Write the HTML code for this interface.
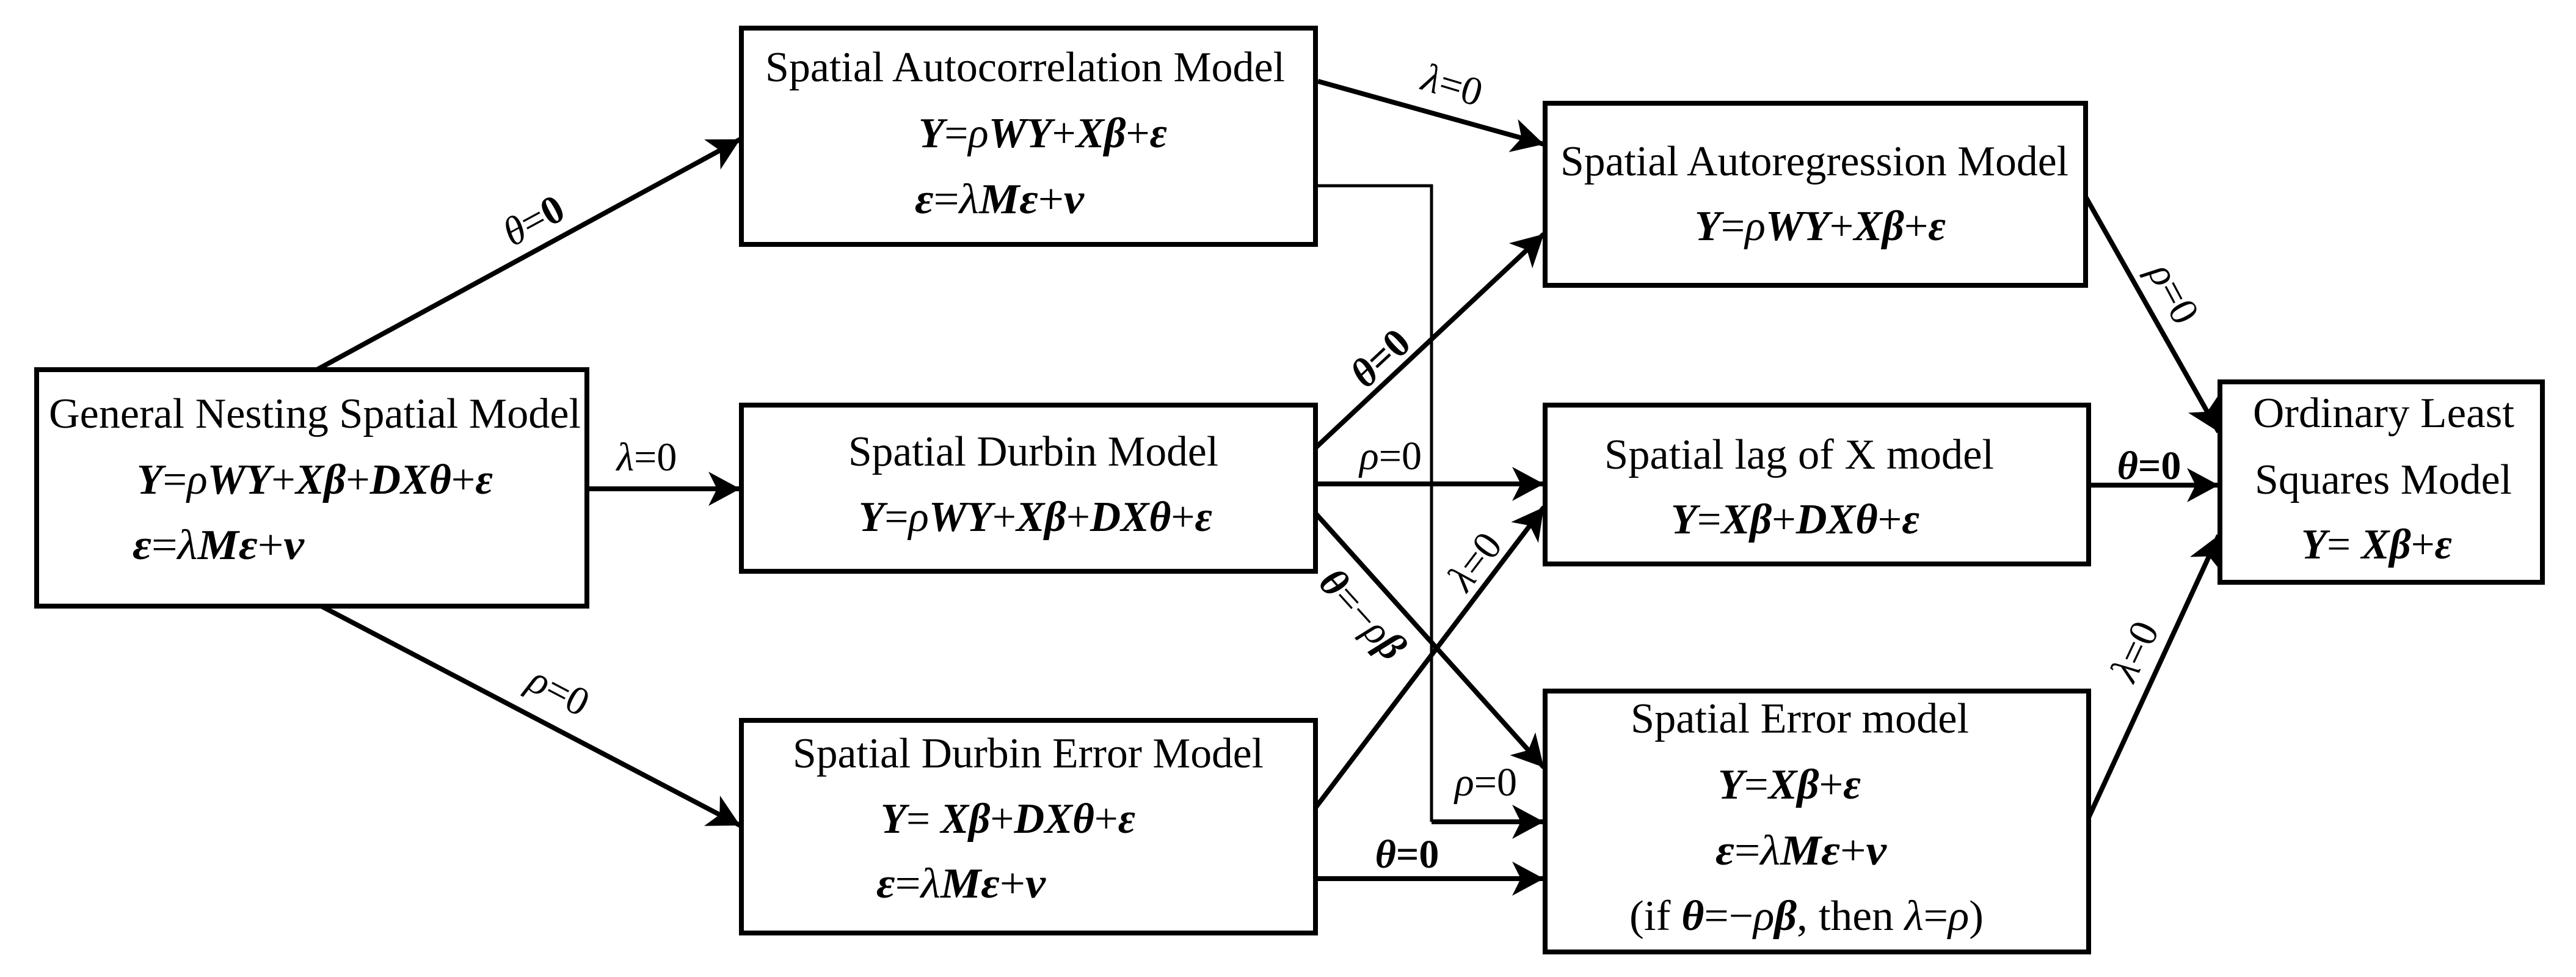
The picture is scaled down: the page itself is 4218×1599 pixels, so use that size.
<!DOCTYPE html>
<html><head><meta charset="utf-8"><style>
html,body{margin:0;padding:0;background:#fff;}
svg{display:block;}
text{font-family:"Liberation Serif","DejaVu Serif",serif;fill:#000;}
.t{font-size:70px;}
.e{font-size:70px;}
.bi{font-weight:bold;font-style:italic;}
.i{font-style:italic;}
.lb{font-size:66px;}
</style></head><body>
<svg width="4218" height="1599" viewBox="0 0 4218 1599" xmlns="http://www.w3.org/2000/svg">
<defs>
<marker id="a" markerUnits="userSpaceOnUse" markerWidth="60" markerHeight="60" refX="52" refY="28" orient="auto">
<path d="M0,0 L52,28 L0,56 L14,28 Z" fill="#000"/>
</marker>
</defs>
<g fill="none" stroke="#000" stroke-width="8">
<rect x="60" y="605" width="901" height="387"/>
<rect x="1214" y="46" width="940" height="354"/>
<rect x="1214" y="663" width="940" height="272"/>
<rect x="1214" y="1179" width="940" height="348"/>
<rect x="2530" y="169" width="885" height="298"/>
<rect x="2530" y="663" width="890" height="260"/>
<rect x="2530" y="1131" width="890" height="427"/>
<rect x="3635" y="625" width="528" height="328"/>
</g>
<g fill="none" stroke="#000" stroke-width="8">
<line x1="519" y1="605" x2="1212" y2="228" marker-end="url(#a)"/>
<line x1="961" y1="800" x2="1212" y2="800" marker-end="url(#a)"/>
<line x1="526" y1="992" x2="1212" y2="1351" marker-end="url(#a)"/>
<line x1="2158" y1="133" x2="2528" y2="236" marker-end="url(#a)"/>
<line x1="2154" y1="733" x2="2528" y2="383" marker-end="url(#a)"/>
<line x1="2154" y1="792" x2="2528" y2="792" marker-end="url(#a)"/>
<line x1="2154" y1="840" x2="2528" y2="1256" marker-end="url(#a)"/>
<line x1="2154" y1="1322" x2="2528" y2="830" marker-end="url(#a)"/>
<line x1="2154" y1="1438" x2="2528" y2="1438" marker-end="url(#a)"/>
<line x1="3415" y1="322" x2="3633" y2="707" marker-end="url(#a)"/>
<line x1="3420" y1="794" x2="3633" y2="794" marker-end="url(#a)"/>
<line x1="3420" y1="1338" x2="3633" y2="876" marker-end="url(#a)"/>
</g>
<polyline points="2154,304 2344,304 2344,1345" fill="none" stroke="#000" stroke-width="5"/>
<line x1="2344" y1="1345" x2="2528" y2="1345" stroke="#000" stroke-width="8" marker-end="url(#a)"/>

<text class="t" x="80" y="700" textLength="871" lengthAdjust="spacingAndGlyphs">General Nesting Spatial Model</text>
<text class="e" x="224" y="808" textLength="583" lengthAdjust="spacingAndGlyphs"><tspan class="bi">Y</tspan>=<tspan class="i">ρ</tspan><tspan class="bi">WY</tspan>+<tspan class="bi">Xβ</tspan>+<tspan class="bi">DXθ</tspan>+<tspan class="bi">ε</tspan></text>
<text class="e" x="217" y="915" textLength="281" lengthAdjust="spacingAndGlyphs"><tspan class="bi">ε</tspan>=<tspan class="i">λ</tspan><tspan class="bi">Mε</tspan>+<tspan class="bi">v</tspan></text>

<text class="t" x="1253" y="133" textLength="851" lengthAdjust="spacingAndGlyphs">Spatial Autocorrelation Model</text>
<text class="e" x="1504" y="241" textLength="407" lengthAdjust="spacingAndGlyphs"><tspan class="bi">Y</tspan>=<tspan class="i">ρ</tspan><tspan class="bi">WY</tspan>+<tspan class="bi">Xβ</tspan>+<tspan class="bi">ε</tspan></text>
<text class="e" x="1498" y="349" textLength="277" lengthAdjust="spacingAndGlyphs"><tspan class="bi">ε</tspan>=<tspan class="i">λ</tspan><tspan class="bi">Mε</tspan>+<tspan class="bi">v</tspan></text>

<text class="t" x="1389" y="762" textLength="606" lengthAdjust="spacingAndGlyphs">Spatial Durbin Model</text>
<text class="e" x="1406" y="869" textLength="579" lengthAdjust="spacingAndGlyphs"><tspan class="bi">Y</tspan>=<tspan class="i">ρ</tspan><tspan class="bi">WY</tspan>+<tspan class="bi">Xβ</tspan>+<tspan class="bi">DXθ</tspan>+<tspan class="bi">ε</tspan></text>

<text class="t" x="1298" y="1256" textLength="771" lengthAdjust="spacingAndGlyphs">Spatial Durbin Error Model</text>
<text class="e" x="1442" y="1363" textLength="417" lengthAdjust="spacingAndGlyphs"><tspan class="bi">Y</tspan>= <tspan class="bi">Xβ</tspan>+<tspan class="bi">DXθ</tspan>+<tspan class="bi">ε</tspan></text>
<text class="e" x="1435" y="1469" textLength="277" lengthAdjust="spacingAndGlyphs"><tspan class="bi">ε</tspan>=<tspan class="i">λ</tspan><tspan class="bi">Mε</tspan>+<tspan class="bi">v</tspan></text>

<text class="t" x="2555" y="287" textLength="832" lengthAdjust="spacingAndGlyphs">Spatial Autoregression Model</text>
<text class="e" x="2775" y="393" textLength="411" lengthAdjust="spacingAndGlyphs"><tspan class="bi">Y</tspan>=<tspan class="i">ρ</tspan><tspan class="bi">WY</tspan>+<tspan class="bi">Xβ</tspan>+<tspan class="bi">ε</tspan></text>

<text class="t" x="2627" y="767" textLength="638" lengthAdjust="spacingAndGlyphs">Spatial lag of X model</text>
<text class="e" x="2736" y="873" textLength="407" lengthAdjust="spacingAndGlyphs"><tspan class="bi">Y</tspan>=<tspan class="bi">Xβ</tspan>+<tspan class="bi">DXθ</tspan>+<tspan class="bi">ε</tspan></text>

<text class="t" x="2670" y="1199" textLength="554" lengthAdjust="spacingAndGlyphs">Spatial Error model</text>
<text class="e" x="2813" y="1307" textLength="234" lengthAdjust="spacingAndGlyphs"><tspan class="bi">Y</tspan>=<tspan class="bi">Xβ</tspan>+<tspan class="bi">ε</tspan></text>
<text class="e" x="2809" y="1415" textLength="280" lengthAdjust="spacingAndGlyphs"><tspan class="bi">ε</tspan>=<tspan class="i">λ</tspan><tspan class="bi">Mε</tspan>+<tspan class="bi">v</tspan></text>
<text class="e" x="2668" y="1522" textLength="580" lengthAdjust="spacingAndGlyphs">(if <tspan class="bi">θ</tspan>=−<tspan class="i">ρ</tspan><tspan class="bi">β</tspan>, then <tspan class="i">λ</tspan>=<tspan class="i">ρ</tspan>)</text>

<text class="t" x="3689" y="699" textLength="428" lengthAdjust="spacingAndGlyphs">Ordinary Least</text>
<text class="t" x="3692" y="808" textLength="421" lengthAdjust="spacingAndGlyphs">Squares Model</text>
<text class="e" x="3768" y="914" textLength="247" lengthAdjust="spacingAndGlyphs"><tspan class="bi">Y</tspan>= <tspan class="bi">Xβ</tspan>+<tspan class="bi">ε</tspan></text>

<text class="lb" text-anchor="middle" transform="translate(884,380) rotate(-28.5)"><tspan class="i">θ</tspan>=<tspan font-weight="bold">0</tspan></text>
<text class="lb" text-anchor="middle" x="1059" y="770"><tspan class="i">λ</tspan>=0</text>
<text class="lb" text-anchor="middle" transform="translate(905,1150) rotate(27.6)"><tspan class="i">ρ</tspan>=0</text>
<text class="lb" text-anchor="middle" transform="translate(2372,160) rotate(16.7)"><tspan class="i">λ</tspan>=0</text>
<text class="lb" text-anchor="middle" transform="translate(2275,602) rotate(-43)"><tspan class="bi">θ</tspan><tspan font-weight="bold">=0</tspan></text>
<text class="lb" text-anchor="middle" x="2277" y="768"><tspan class="i">ρ</tspan>=0</text>
<text class="lb" text-anchor="middle" transform="translate(2432,932) rotate(-52.6)"><tspan class="i">λ</tspan>=0</text>
<text class="lb" text-anchor="middle" transform="translate(2215,1020) rotate(47.9)"><tspan class="bi">θ</tspan>=−<tspan class="i">ρ</tspan><tspan class="bi">β</tspan></text>
<text class="lb" text-anchor="middle" x="2433" y="1302"><tspan class="i">ρ</tspan>=0</text>
<text class="lb" text-anchor="middle" x="2304" y="1420"><tspan class="bi">θ</tspan><tspan font-weight="bold">=0</tspan></text>
<text class="lb" text-anchor="middle" transform="translate(3540,490) rotate(62)"><tspan class="i">ρ</tspan>=0</text>
<text class="lb" text-anchor="middle" x="3519" y="784"><tspan class="bi">θ</tspan><tspan font-weight="bold">=0</tspan></text>
<text class="lb" text-anchor="middle" transform="translate(3515,1075) rotate(-64.7)"><tspan class="i">λ</tspan>=0</text>
</svg>
</body></html>
